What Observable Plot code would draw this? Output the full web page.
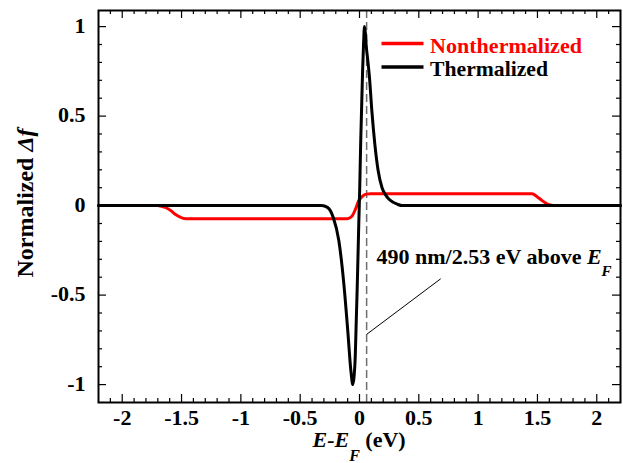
<!DOCTYPE html>
<html><head><meta charset="utf-8">
<script src="https://cdn.jsdelivr.net/npm/d3@7"></script>
<script src="https://cdn.jsdelivr.net/npm/@observablehq/plot@0.6"></script>
<style>body{margin:0;background:#fff}#chart{position:relative;width:623px;height:463px}</style>
</head><body><div id="chart"></div>
<script>
// ---- data ----
const redE = [-2.2, -1.7, -1.676, -1.63, -1.59, -1.55, -1.51, -1.48, -1.44, -0.104, -0.08, -0.06, -0.034, -0.006, 0.015, 0.036, 0.06, 0.093, 1.455, 1.497, 1.539, 1.58, 1.62, 1.65, 2.2];
const redF = [0, 0, -0.003, -0.012, -0.028, -0.05, -0.065, -0.072, -0.073, -0.073, -0.068, -0.056, -0.02, 0.028, 0.045, 0.058, 0.064, 0.066, 0.066, 0.05, 0.028, 0.01, 0.002, 0, 0];
const blackE = [-2.2, -0.32, -0.27, -0.244, -0.222, -0.174, -0.132, -0.099, -0.073, -0.056, -0.045, -0.036, -0.028, -0.02, -0.013, -0.006, 0.002, 0.01, 0.018, 0.026, 0.034, 0.042, 0.05, 0.056, 0.07, 0.084, 0.104, 0.129, 0.157, 0.19, 0.22, 0.247, 0.28, 0.318, 0.36, 2.2];
const blackF = [0, 0, -0.01, -0.03, -0.065, -0.196, -0.437, -0.698, -0.92, -1.0, -0.95, -0.847, -0.66, -0.475, -0.29, -0.1, 0.1, 0.35, 0.55, 0.75, 0.9, 1.0, 0.96, 0.90, 0.81, 0.717, 0.53, 0.345, 0.196, 0.1, 0.06, 0.037, 0.02, 0.008, 0, 0];
const seriesNames = ["Nonthermalized", "Thermalized"];
const seriesColors = ["#ff0000", "#000000"];
const xTicks = [-2, -1.5, -1, -0.5, 0, 0.5, 1, 1.5, 2];
const xTickLabels = ["-2", "-1.5", "-1", "-0.5", "0", "0.5", "1", "1.5", "2"];
const yTicks = [-1, -0.5, 0, 0.5, 1];
const yTickLabels = ["-1", "-0.5", "0", "0.5", "1"];
const markerE = [0.06];
const noteText = ["490 nm/2.53 eV above E"];
const noteE = [0.143];
const noteF = [-0.324];
const leaderE = [0.065, 0.682];
const leaderF = [-0.717, -0.41];

// ---- layout ----
const W = 623, H = 463, mt = 10, mb = 61, ml = 98, mr = 3;
const FH = H - mt - mb, FW = W - ml - mr;
const xMinor = d3.range(-21, 22).filter(i => i % 5 !== 0).map(i => i / 10);
const yMinor = d3.range(-10, 11).filter(i => i % 5 !== 0).map(i => i / 10);

const red = redE.map((e, i) => ({e, f: redF[i]}));
const black = blackE.map((e, i) => ({e, f: blackF[i]}));
const notes = noteText.map((t, i) => ({t, e: noteE[i], f: noteF[i]}));
const leader = leaderE.map((e, i) => ({e, f: leaderF[i]}));
const tk = {stroke: "#000", strokeWidth: 1.2};

const plot = Plot.plot({
  width: W, height: H,
  marginTop: mt, marginBottom: mb, marginLeft: ml, marginRight: mr,
  style: {fontFamily: "'Liberation Serif', 'Times New Roman', serif", fontWeight: "bold", fontSize: "22px", color: "#000", background: "#fff"},
  x: {domain: [-2.2, 2.2], label: null},
  y: {domain: [-1.1, 1.09], label: null},
  marks: [
    Plot.ruleX(markerE, {stroke: "#6e6e6e", strokeWidth: 1.5, strokeDasharray: "8,4"}),
    Plot.line(leader, {x: "e", y: "f", stroke: "#000", strokeWidth: 1}),
    Plot.line(red, {x: "e", y: "f", stroke: seriesColors[0], strokeWidth: 3, curve: "monotone-x"}),
    Plot.line(black, {x: "e", y: "f", stroke: seriesColors[1], strokeWidth: 3, curve: "monotone-x"}),
    Plot.text(notes, {x: "e", y: "f", text: "t", textAnchor: "start", lineAnchor: "bottom", fontSize: 22, fontWeight: "bold"}),
    // inward ticks on all four sides
    Plot.ruleX(xTicks, {...tk, insetTop: FH - 8}),
    Plot.ruleX(xTicks, {...tk, insetBottom: FH - 8}),
    Plot.ruleX(xMinor, {...tk, insetTop: FH - 4}),
    Plot.ruleX(xMinor, {...tk, insetBottom: FH - 4}),
    Plot.ruleY(yTicks, {...tk, insetRight: FW - 8}),
    Plot.ruleY(yTicks, {...tk, insetLeft: FW - 8}),
    Plot.ruleY(yMinor, {...tk, insetRight: FW - 4}),
    Plot.ruleY(yMinor, {...tk, insetLeft: FW - 4}),
    Plot.axisX({ticks: xTicks, tickFormat: (d) => xTickLabels[xTicks.indexOf(d)], tickSize: 0, tickPadding: 7, anchor: "bottom", label: null, fontSize: 22, fontWeight: "bold"}),
    Plot.axisY({ticks: yTicks, tickFormat: (d) => yTickLabels[yTicks.indexOf(d)], tickSize: 0, tickPadding: 13, anchor: "left", label: null, fontSize: 22, fontWeight: "bold", dy: -1}),
    Plot.frame({stroke: "#000", strokeWidth: 2})
  ]
});
document.getElementById("chart").appendChild(plot);

const svg = d3.select(plot);
const NS = "http://www.w3.org/2000/svg";
function rich(el, parts) {
  el.textContent = "";
  for (const p of parts) {
    const ts = document.createElementNS(NS, "tspan");
    ts.textContent = p.t;
    if (p.i) ts.setAttribute("font-style", "italic");
    if (p.s) ts.setAttribute("font-size", p.s);
    if (p.dy) ts.setAttribute("dy", p.dy);
    el.appendChild(ts);
  }
}
// annotation with subscript
svg.selectAll("text").filter(function () { return this.textContent === noteText[0]; }).each(function () {
  rich(this, [{t: "490 nm/2.53 eV above "}, {t: "E", i: true}, {t: "F", i: true, s: 15, dy: 12}]);
});

// axis titles
const xt = svg.append("text").attr("x", 312.5).attr("y", 446.5).attr("text-anchor", "start")
  .attr("font-size", 22).attr("font-weight", "bold").attr("fill", "#000").node();
rich(xt, [{t: "E-E", i: true}, {t: "F", i: true, s: 16, dy: 14}, {t: " (eV)", dy: -14}]);
const yt = svg.append("text").attr("transform", "translate(33,203) rotate(-90)").attr("text-anchor", "middle")
  .attr("font-size", 24).attr("font-weight", "bold").attr("fill", "#000").node();
rich(yt, [{t: "Normalized "}, {t: "\u0394f", i: true}]);

// legend
const lg = svg.append("g").attr("text-anchor", "start");
const legendY = [43.5, 67];
seriesNames.forEach((name, i) => {
  lg.append("line").attr("x1", 381.5).attr("x2", 423.5).attr("y1", legendY[i]).attr("y2", legendY[i])
    .attr("stroke", seriesColors[i]).attr("stroke-width", 3.3);
  lg.append("text").attr("x", 430).attr("y", legendY[i] + 9).attr("text-anchor", "start")
    .attr("font-size", 21).attr("font-weight", "bold").attr("textLength", 152).attr("lengthAdjust", "spacingAndGlyphs")
    .attr("fill", seriesColors[i]).text(name);
});
// keep the second label the same condensed proportion
lg.selectAll("text").filter((d, i, n) => n[i].textContent === seriesNames[1]).attr("textLength", 118);
</script>
</body></html>
